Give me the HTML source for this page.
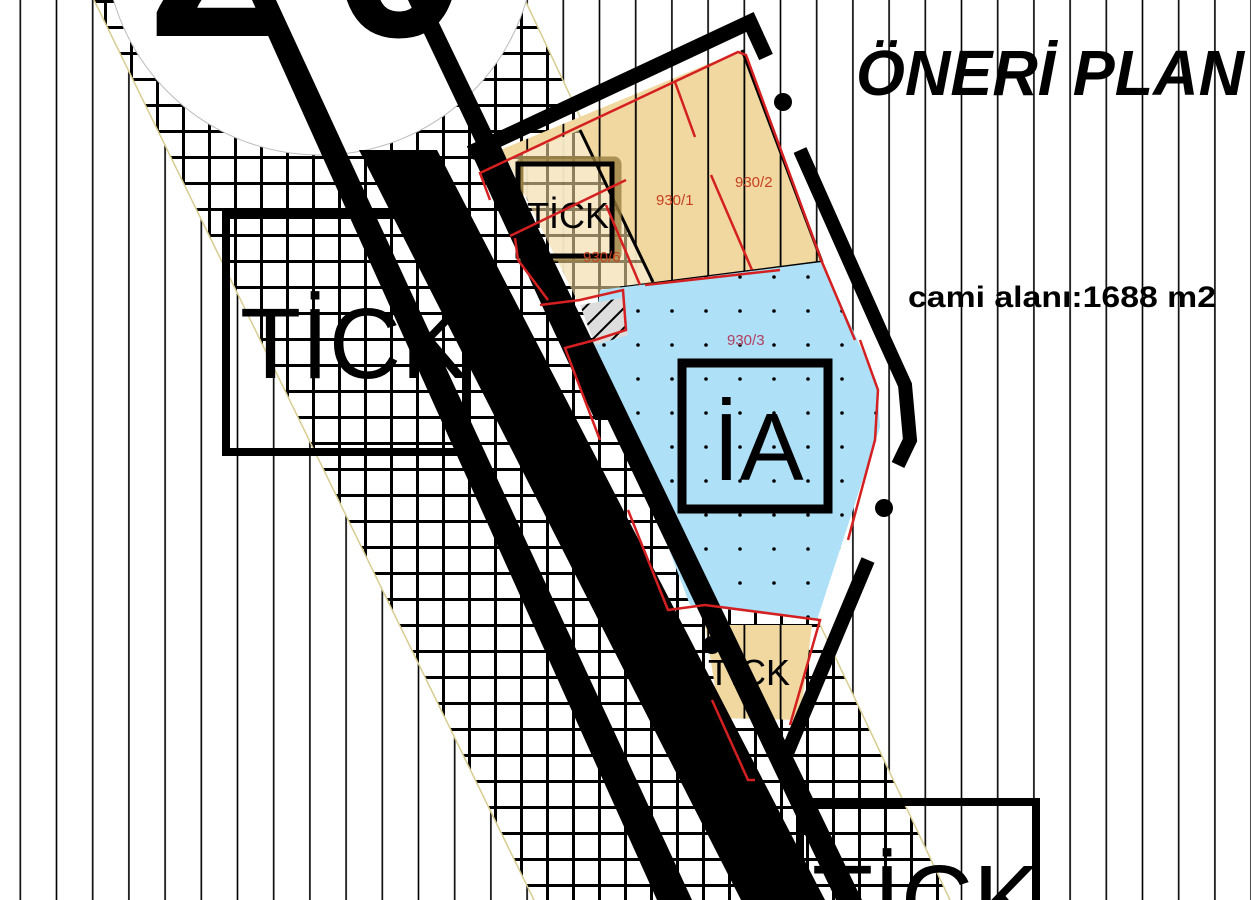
<!DOCTYPE html>
<html><head><meta charset="utf-8"><style>
html,body{margin:0;padding:0;background:#fff;overflow:hidden;width:1251px;height:900px;}
svg{display:block;overflow:hidden;}
</style></head><body>
<svg width="1251" height="900" viewBox="0 0 1251 900" xmlns="http://www.w3.org/2000/svg">
<defs>
<clipPath id="page"><rect width="1251" height="900"/></clipPath>
<pattern id="vl" x="0" y="0" width="36.2" height="900" patternUnits="userSpaceOnUse">
<rect x="19.5" y="0" width="1.6" height="900" fill="#000"/>
</pattern>
<pattern id="grid" x="0" y="0" width="26" height="26" patternUnits="userSpaceOnUse">
<rect width="26" height="26" fill="#fff"/>
<rect x="0" y="0" width="3" height="26" fill="#000"/>
<rect x="0" y="0" width="26" height="3" fill="#000"/>
</pattern>
<pattern id="dots" x="655" y="328" width="34" height="34" patternUnits="userSpaceOnUse">
<rect width="34" height="34" fill="#aee0f8"/>
<circle cx="17" cy="17" r="1.8" fill="#000"/>
</pattern>
<pattern id="bvl" x="0" y="0" width="36.2" height="900" patternUnits="userSpaceOnUse">
<rect width="36.2" height="900" fill="#f0d8a0"/>
<rect x="19.5" y="0" width="1.8" height="900" fill="#000"/>
</pattern>
<pattern id="hatch" width="14" height="14" patternUnits="userSpaceOnUse" patternTransform="rotate(45)">
<rect width="14" height="14" fill="#ddd"/>
<rect width="2" height="14" fill="#000"/>
</pattern>
</defs>
<g clip-path="url(#page)">
<rect width="1251" height="900" fill="#fff"/>
<rect width="1251" height="900" fill="url(#vl)"/>
<!-- crosshatch band -->
<polygon points="94,0 525,0 950,900 534,900" fill="url(#grid)"/>
<line x1="94" y1="0" x2="534" y2="900" stroke="#d8cc90" stroke-width="1.5"/>
<line x1="525" y1="0" x2="950" y2="900" stroke="#d8cc90" stroke-width="1.5"/>
<!-- circle -->
<circle cx="320" cy="-60" r="215" fill="#fff" stroke="#bbb" stroke-width="1"/>
<text x="148" y="36" font-family="Liberation Sans, sans-serif" font-weight="bold" font-size="250" fill="#000">2</text>
<text x="330" y="36" font-family="Liberation Sans, sans-serif" font-weight="bold" font-size="250" fill="#000">0</text>
<!-- left TICK box -->
<rect x="226" y="215" width="240" height="237" fill="none" stroke="#000" stroke-width="8"/>
<text x="240" y="378" font-family="Liberation Sans, sans-serif" font-size="100" fill="#000">TİCK</text>
<!-- parcels -->
<polygon points="500,150 742,50 822,262 623,288 578,302 510,165" fill="url(#bvl)"/>
<polygon points="508,160 580,130 653,280 578,302" fill="url(#grid)" opacity="0.9"/>
<polygon points="508,160 580,130 653,280 578,302" fill="#f0d8a0" opacity="0.55"/>
<line x1="580" y1="130" x2="653" y2="282" stroke="#000" stroke-width="3"/>
<line x1="620" y1="288" x2="822" y2="262" stroke="#000" stroke-width="3"/>
<line x1="742" y1="50" x2="822" y2="262" stroke="#000" stroke-width="3"/>
<rect x="520" y="160" width="98" height="98" rx="4" fill="none" stroke="#9a8040" stroke-width="7" opacity="0.8"/>
<rect x="518" y="164" width="94" height="92" fill="none" stroke="#000" stroke-width="5"/>
<text x="527" y="228" font-family="Liberation Sans, sans-serif" font-size="36" fill="#000">TİCK</text>
<polygon points="600,290 822,262 877,383 880,427 817,620 690,605 592,345" fill="url(#dots)"/>
<polygon points="580,305 622,298 628,335 595,345" fill="url(#hatch)"/>
<polygon points="705,625 812,625 800,720 720,718" fill="url(#bvl)"/>
<text x="708" y="685" font-family="Liberation Sans, sans-serif" font-size="36" fill="#000">TİCK</text>
<!-- IA box -->
<rect x="682" y="363" width="146" height="146" fill="none" stroke="#000" stroke-width="9"/>
<text x="713" y="480" font-family="Liberation Sans, sans-serif" font-size="96" fill="#000">İA</text>
<!-- roads -->
<polygon points="252,0 276,0 692,900 657,900" fill="#000"/>
<polygon points="359,150 437,150 825,900 741,900" fill="#000"/>
<polygon points="408,0 428,0 862,900 836,900" fill="#000"/>
<polygon points="470,150 498,140 625,420 595,420" fill="#000"/>
<!-- parcel borders -->
<polyline points="470,153 750,22 766,57" fill="none" stroke="#000" stroke-width="15"/>
<polyline points="800,150 880,330 905,385 910,440 898,465" fill="none" stroke="#000" stroke-width="14"/>
<line x1="868" y1="560" x2="780" y2="770" stroke="#000" stroke-width="14"/>
<circle cx="783" cy="102" r="9" fill="#000"/>
<circle cx="884" cy="508" r="9" fill="#000"/>
<circle cx="712" cy="645" r="9" fill="#000"/>
<!-- red lines -->
<g fill="none" stroke="#d42020" stroke-width="2.5">
<polyline points="490,200 480,173 738,52 746,55 822,262 855,340"/>
<polyline points="515,238 518,260 548,300"/>
<polyline points="540,305 580,300 623,290 626,330 595,340 565,348 600,440"/>
<line x1="510" y1="236" x2="626" y2="180"/>
<line x1="640" y1="285" x2="606" y2="205"/>
<line x1="752" y1="270" x2="711" y2="175"/>
<line x1="675" y1="82" x2="695" y2="137"/>
<line x1="645" y1="285" x2="780" y2="270"/>
<polyline points="860,340 878,390 875,440 848,540"/>
<polyline points="628,510 668,610 705,605 820,620 790,725"/>
<polyline points="712,700 748,780 755,780"/>
</g>
<g font-family="Liberation Sans, sans-serif" font-size="15" fill="#c84020">
<text x="656" y="205">930/1</text>
<text x="735" y="187">930/2</text>
<text x="583" y="262">930/6</text>
<text x="727" y="345" fill="#b04060">930/3</text>
</g>
<!-- bottom TICK box -->
<polyline points="800,904 800,802 1036,802 1036,904" fill="none" stroke="#000" stroke-width="8"/>
<text x="812" y="935" font-family="Liberation Sans, sans-serif" font-size="100" fill="#000">TİCK</text>
<!-- titles -->
<text x="856" y="95" font-family="Liberation Sans, sans-serif" font-weight="bold" font-style="italic" font-size="64" fill="#000" textLength="388" lengthAdjust="spacingAndGlyphs">ÖNERİ PLAN</text>
<text x="908" y="307" font-family="Liberation Sans, sans-serif" font-weight="bold" font-size="30" fill="#000" textLength="308" lengthAdjust="spacingAndGlyphs">cami alanı:1688 m2</text>
</g>
</svg>
</body></html>
